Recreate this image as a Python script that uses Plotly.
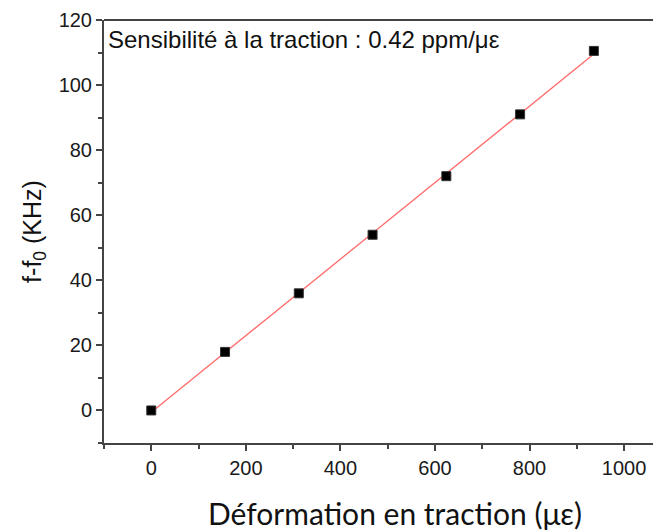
import numpy as np
import plotly.graph_objects as go

strain = [0, 156, 312, 468, 624, 780, 936]
freq_shift = [0, 18, 36, 54, 72, 91, 110.5]
x_ticks = [0, 200, 400, 600, 800, 1000]
y_ticks = [0, 20, 40, 60, 80, 100, 120]
annotation_text = "Sensibilité à la traction : 0.42 ppm/με"
x_title = "Déformation en traction (με)"

slope, intercept = np.polyfit(strain, freq_shift, 1)
fit_x = [min(strain), max(strain)]
fit_y = [slope * v + intercept for v in fit_x]

fig = go.Figure()
fig.add_trace(go.Scatter(x=fit_x, y=fit_y, mode="lines",
                         line=dict(color="#ff6b6b", width=1.3), showlegend=False))
fig.add_trace(go.Scatter(x=strain, y=freq_shift, mode="markers",
                         marker=dict(symbol="square", size=9, color="black",
                                     line=dict(color="#333333", width=1)),
                         showlegend=False))

axis_font = dict(family="Arial", size=20, color="#1a1a1a")
fig.update_layout(
    width=653, height=522,
    margin=dict(l=96, r=0, t=12, b=87),
    paper_bgcolor="white", plot_bgcolor="white",
    xaxis=dict(range=[-100, 1078], tickvals=x_ticks, ticks="outside", ticklen=6,
               tickwidth=1.5, tickcolor="#444444", showline=True, linecolor="#444444",
               linewidth=2, showgrid=False, zeroline=False, tickfont=axis_font,
               automargin=False,
               minor=dict(dtick=100, ticks="outside", ticklen=4, tickwidth=1.5,
                          tickcolor="#444444", showgrid=False)),
    yaxis=dict(range=[-10, 120], tickvals=y_ticks, ticks="outside", ticklen=6,
               tickwidth=1.5, tickcolor="#444444", showline=True, linecolor="#444444",
               linewidth=2, showgrid=False, zeroline=False, tickfont=axis_font,
               automargin=False,
               minor=dict(dtick=10, ticks="outside", ticklen=4, tickwidth=1.5,
                          tickcolor="#444444", showgrid=False),
               title=dict(text="f-f<sub>0</sub> (KHz)",
                          font=dict(family="Arial", size=25, color="#111111"),
                          standoff=10)),
    shapes=[dict(type="line", xref="paper", yref="paper", x0=0, x1=1, y0=1, y1=1,
                 line=dict(color="#444444", width=2))],
    annotations=[
        dict(text=annotation_text, xref="paper", yref="paper", x=0.004, y=0.99,
             xanchor="left", yanchor="top", showarrow=False,
             font=dict(family="Arial", size=24, color="#111111")),
        dict(text=x_title, xref="paper", yref="paper", x=0.522, y=-0.165,
             xanchor="center", yanchor="middle", showarrow=False,
             font=dict(family="Lato", size=30, color="#111111")),
    ],
)

fig.write_html("out.html")
